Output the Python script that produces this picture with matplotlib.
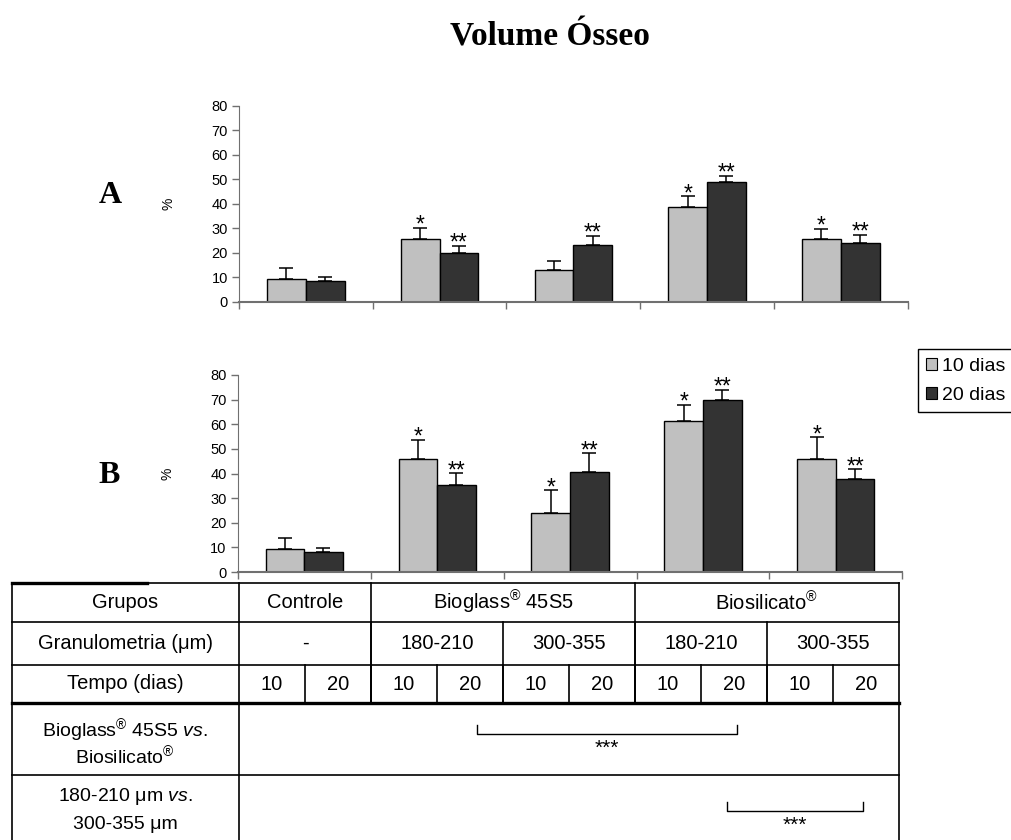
import matplotlib
matplotlib.use('Agg')
import matplotlib.pyplot as plt
from matplotlib.patches import Patch
from matplotlib.lines import Line2D
import numpy as np

plt.rcParams['font.family'] = ['Liberation Sans', 'DejaVu Sans']
plt.rcParams['mathtext.fontset'] = 'custom'
plt.rcParams['mathtext.rm'] = 'Liberation Sans'
plt.rcParams['mathtext.it'] = 'Liberation Sans:italic'

# --- data ---
groups = ['Controle', 'Bioglass 180-210', 'Bioglass 300-355',
          'Biosilicato 180-210', 'Biosilicato 300-355']
series = ['10 dias', '20 dias']

a_10 = [9.4, 25.5, 12.9, 38.5, 25.5]
a_10_err = [4.5, 4.7, 3.7, 4.6, 4.3]
a_20 = [8.3, 19.9, 23.1, 48.7, 24.1]
a_20_err = [1.9, 3.0, 3.8, 2.7, 3.2]
a_10_marks = ['', '*', '', '*', '*']
a_20_marks = ['', '**', '**', '**', '**']

b_10 = [9.5, 45.9, 23.8, 61.4, 46.0]
b_10_err = [4.3, 7.8, 9.5, 6.5, 8.7]
b_20 = [8.1, 35.3, 40.5, 69.8, 37.8]
b_20_err = [1.8, 4.8, 7.8, 4.2, 3.9]
b_10_marks = ['', '*', '*', '*', '*']
b_20_marks = ['', '**', '**', '**', '**']

yticks = [0, 10, 20, 30, 40, 50, 60, 70, 80]

row_labels = ['Grupos', 'Granulometria (μm)', 'Tempo (dias)']
row1 = [('Controle', 0, 2), (r'Bioglass$^{®}$ 45S5', 2, 6), (r'Biosilicato$^{®}$', 6, 10)]
row2 = [('-', 0, 2), ('180-210', 2, 4), ('300-355', 4, 6), ('180-210', 6, 8), ('300-355', 8, 10)]
row3 = ['10', '20'] * 5
cmp_labels = [r'Bioglass$^{®}$ 45S5 $\mathit{vs.}$' + '\n' + r'Biosilicato$^{®}$',
              r'180-210 μm $\mathit{vs.}$' + '\n' + '300-355 μm']
cmp_brackets = [(3.1, 7.05, '***'), (6.9, 8.95, '***')]

LIGHT = '#c0c0c0'
DARK = '#333333'
AXC = '#707070'

W, H = 1012, 840
fig = plt.figure(figsize=(W / 100, H / 100), dpi=100)


def px_axes(x0, x1, y_top, y_bot):
    return fig.add_axes([x0 / W, 1 - y_bot / H, (x1 - x0) / W, (y_bot - y_top) / H])


def draw_panel(ax, v10, e10, v20, e20, m10, m20):
    x = np.arange(len(groups)) + 0.5
    w = 0.29
    ax.bar(x - w / 2, v10, w, color=LIGHT, edgecolor='black', linewidth=1, zorder=2)
    ax.bar(x + w / 2, v20, w, color=DARK, edgecolor='black', linewidth=1, zorder=2)
    ax.errorbar(x - w / 2, v10, yerr=[np.zeros(len(v10)), e10], fmt='none',
                ecolor='black', elinewidth=1.1, capsize=5, capthick=1.1, zorder=1)
    ax.errorbar(x + w / 2, v20, yerr=[np.zeros(len(v20)), e20], fmt='none',
                ecolor='black', elinewidth=1.1, capsize=5, capthick=1.1, zorder=1)
    for xs, vals, errs, marks in [(x - w / 2, v10, e10, m10), (x + w / 2, v20, e20, m20)]:
        for xi, v, e, m in zip(xs, vals, errs, marks):
            if m:
                ax.annotate(m, (xi, v + e), xytext=(0, -3), textcoords='offset points',
                            ha='center', va='baseline', fontsize=16.5)
    ax.set_xlim(0, len(groups))
    ax.set_ylim(0, 80)
    ax.set_yticks(yticks)
    ax.set_xticks(np.arange(len(groups) + 1))
    ax.set_xticklabels([])
    ax.tick_params(axis='y', length=5, width=1, color=AXC, pad=3, labelsize=10.5)
    ax.tick_params(axis='x', length=5, width=1, color=AXC)
    for s in ['top', 'right']:
        ax.spines[s].set_visible(False)
    ax.spines['left'].set_color(AXC)
    ax.spines['bottom'].set_color(AXC)
    ax.spines['bottom'].set_linewidth(1.5)
    ax.set_facecolor('none')
    ax.set_ylabel('%', fontsize=10, rotation=90)
    ax.yaxis.set_label_coords(-0.095, 0.5)


ax_a = px_axes(239, 907.7, 105.7, 301.7)
draw_panel(ax_a, a_10, a_10_err, a_20, a_20_err, a_10_marks, a_20_marks)
ax_b = px_axes(237.7, 902.4, 375, 572)
draw_panel(ax_b, b_10, b_10_err, b_20, b_20_err, b_10_marks, b_20_marks)

fig.text(550 / W, 1 - 46 / H, 'Volume Ósseo', ha='center', va='baseline',
         fontsize=24, fontweight='bold', family='Liberation Serif')
fig.text(110 / W, 1 - 203 / H, 'A', ha='center', va='baseline',
         fontsize=23, fontweight='bold', family='Liberation Serif')
fig.text(109 / W, 1 - 483 / H, 'B', ha='center', va='baseline',
         fontsize=23, fontweight='bold', family='Liberation Serif')

handles = [Patch(facecolor=LIGHT, edgecolor='black', linewidth=0.8, label=series[0]),
           Patch(facecolor=DARK, edgecolor='black', linewidth=0.8, label=series[1])]
fig.legend(handles=handles, loc='upper left', bbox_to_anchor=(917.7 / W, 1 - 349.3 / H),
           frameon=True, fancybox=False, edgecolor='black', framealpha=1,
           borderaxespad=0, fontsize=14, handlelength=0.55, handleheight=0.55,
           handletextpad=0.25, labelspacing=0.6, borderpad=0.45)

# --- table below the charts ---
tab = fig.add_axes([0, 0, 1, 1])
tab.set_xlim(0, W)
tab.set_ylim(H, 0)
tab.axis('off')
tab.patch.set_alpha(0)

x_left, x0, cw = 11.7, 239, 66
x_right = x0 + 10 * cw
rows_y = [583.3, 621.7, 665, 702.7, 775, 850]
LW = 1.2
tfs = 14.5


def hline(y, xa, xb, lw=LW):
    tab.add_line(Line2D([xa, xb], [y, y], color='black', lw=lw))


def vline(x, ya, yb, lw=LW):
    tab.add_line(Line2D([x, x], [ya, yb], color='black', lw=lw))


for i, y in enumerate(rows_y[:-1]):
    hline(y, x_left, x_right, lw=2.4 if i == 3 else LW)
hline(rows_y[0], x_left, 147, lw=2.4)
vline(x_left, rows_y[0], H)
vline(x0, rows_y[0], H)
vline(x_right, rows_y[0], H)

for k, (txt, c0, c1) in enumerate(row1):
    if c0 > 0:
        vline(x0 + c0 * cw, rows_y[0], rows_y[3])
    tab.text(x0 + (c0 + c1) / 2 * cw, (rows_y[0] + rows_y[1]) / 2, txt,
             ha='center', va='center', fontsize=tfs)
for txt, c0, c1 in row2:
    if c0 > 0:
        vline(x0 + c0 * cw, rows_y[1], rows_y[3])
    tab.text(x0 + (c0 + c1) / 2 * cw, (rows_y[1] + rows_y[2]) / 2, txt,
             ha='center', va='center', fontsize=tfs)
for c, txt in enumerate(row3):
    if c > 0:
        vline(x0 + c * cw, rows_y[2], rows_y[3])
    tab.text(x0 + (c + 0.5) * cw, (rows_y[2] + rows_y[3]) / 2 + 1, txt,
             ha='center', va='center', fontsize=tfs)
for r, txt in enumerate(row_labels):
    tab.text((x_left + x0) / 2, (rows_y[r] + rows_y[r + 1]) / 2, txt,
             ha='center', va='center', fontsize=tfs)

for r, txt in enumerate(cmp_labels):
    ya, yb = rows_y[3 + r], rows_y[4 + r]
    tab.text((x_left + x0) / 2, (ya + yb) / 2 + (4 if r == 0 else -3), txt,
             ha='center', va='center', fontsize=tfs - 0.5,
             linespacing=1.65 if r else 0.95)

bracket_y = [734, 811]
for (c0, c1, stars), by in zip(cmp_brackets, bracket_y):
    xa, xb = x0 + (c0 + 0.5) * cw, x0 + (c1 + 0.5) * cw
    tab.add_line(Line2D([xa, xa, xb, xb], [by - 9, by, by, by - 9], color='black', lw=1))
    tab.text((xa + xb) / 2, by + 5, stars, ha='center', va='top', fontsize=15)

fig.savefig('out.png', dpi=100)
